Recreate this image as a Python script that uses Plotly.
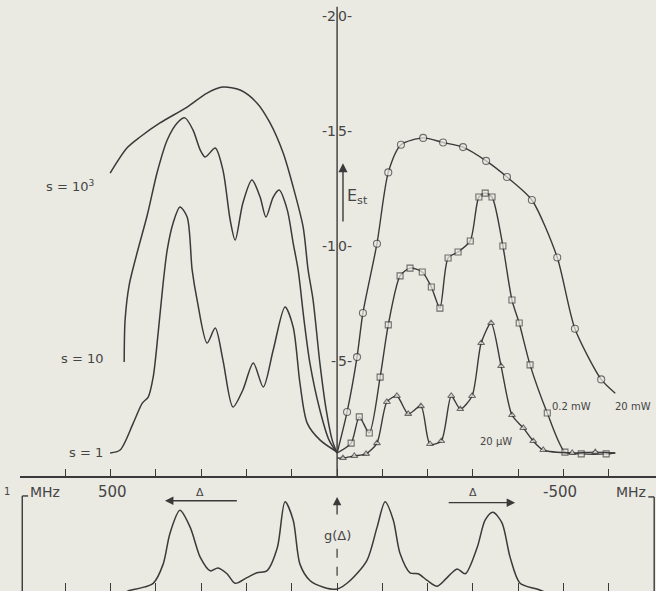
import plotly.graph_objects as go

# ---------------- data ----------------
# x in MHz (detuning, axis drawn reversed), y = E_st
S1000_MHZ = [501, 464, 435, 391, 331, 287, 252, 214, 177, 148, 119, 97, 75, 64, 53, 38, 24, 11, 0]
S1000_E = [13.17, 14.26, 14.74, 15.35, 16.04, 16.65, 16.91, 16.78, 16.22, 15.35, 14.04, 12.57, 10.83, 8.96, 7.65, 4.91, 2.87, 1.57, 1.0]

S10_MHZ = [470, 468, 459, 441, 419, 397, 375, 353, 336, 318, 302, 291, 269, 252, 236, 225, 208, 188, 170, 157, 141, 128, 110, 97, 86, 73, 60, 38, 18, 0]
S10_E = [4.96, 6.78, 8.30, 9.74, 11.35, 13.22, 14.61, 15.35, 15.57, 15.04, 14.17, 13.87, 14.26, 13.30, 11.13, 10.26, 11.87, 12.87, 12.13, 11.26, 12.13, 12.43, 11.57, 10.13, 8.96, 6.78, 4.91, 2.87, 1.57, 1.0]

S1_MHZ = [501, 479, 450, 430, 417, 406, 395, 384, 375, 362, 347, 331, 320, 309, 287, 269, 252, 230, 208, 185, 163, 141, 115, 97, 82, 66, 38, 0]
S1_E = [1.0, 1.13, 2.30, 3.17, 3.43, 4.30, 6.22, 8.39, 9.83, 11.0, 11.70, 11.26, 8.96, 7.65, 5.78, 6.43, 5.04, 3.0, 3.74, 4.91, 3.87, 5.48, 7.35, 6.48, 4.04, 2.30, 1.57, 1.04]

P20MW_MHZ = [0, -22, -44, -57, -88, -113, -141, -190, -234, -278, -329, -375, -430, -486, -525, -583, -614]
P20MW_E = [1.0, 2.78, 5.17, 7.09, 10.1, 13.2, 14.4, 14.7, 14.5, 14.3, 13.7, 13.0, 12.0, 9.5, 6.4, 4.2, 3.6]

P02MW_MHZ = [0, -31, -49, -71, -95, -113, -139, -161, -188, -208, -227, -245, -267, -294, -313, -327, -342, -366, -386, -402, -426, -464, -503, -539, -594, -614]
P02MW_E = [1.0, 1.43, 2.57, 1.87, 4.30, 6.57, 8.70, 9.04, 8.87, 8.22, 7.30, 9.48, 9.74, 10.22, 12.13, 12.30, 12.13, 10.0, 7.65, 6.65, 4.83, 2.74, 1.04, 0.96, 0.96, 1.0]

P20UW_MHZ = [0, -13, -38, -64, -88, -110, -132, -157, -185, -205, -230, -252, -272, -298, -318, -340, -362, -386, -411, -433, -455, -519, -570, -614]
P20UW_E = [0.78, 0.78, 0.87, 0.96, 1.43, 3.22, 3.48, 2.70, 3.04, 1.39, 1.52, 3.48, 2.91, 3.48, 5.78, 6.65, 4.78, 2.65, 2.09, 1.52, 1.13, 1.0, 1.04, 1.0]

G_MHZ = [475, 461, 435, 406, 384, 369, 347, 324, 302, 280, 263, 243, 225, 199, 177, 155, 132, 115, 97, 82, 60, 30, 0,
         -29, -66, -88, -106, -124, -139, -161, -179, -199, -221, -243, -265, -283, -309, -327, -344, -364, -382, -404, -441, -475]
G_VAL = [-0.04, 0.0, 0.03, 0.08, 0.28, 0.60, 0.84, 0.66, 0.35, 0.21, 0.24, 0.18, 0.08, 0.14, 0.19, 0.21, 0.45, 0.93, 0.74, 0.28, 0.11, 0.04, 0.02,
         0.11, 0.32, 0.66, 0.93, 0.74, 0.39, 0.19, 0.18, 0.11, 0.05, 0.14, 0.23, 0.18, 0.45, 0.74, 0.82, 0.71, 0.35, 0.08, 0.02, -0.04]

TICK_MHZ = [700, 600, 500, 400, 300, 200, 100, 0, -100, -200, -300, -400, -500, -600]
E_TICKS = [20, 15, 10, 5]

# ---------------- style ----------------
W, H = 656, 591
BG = '#eae9e2'
INK = '#3a3a3a'
TXT = '#454545'
FONT = 'DejaVu Sans'
XR = [700, -704]


def X(px):
    return px / W


def Y(py):
    return 1 - py / H


fig = go.Figure()


def theory(x, y):
    fig.add_trace(go.Scatter(x=x, y=y, mode='lines', xaxis='x', yaxis='y',
                             line=dict(color=INK, width=1.5, shape='spline', smoothing=0.8),
                             showlegend=False, hoverinfo='skip'))


def measured(x, y, symbol, size):
    sizes = [0] + [size] * (len(x) - 2) + [0]
    fig.add_trace(go.Scatter(x=x, y=y, mode='lines+markers', xaxis='x', yaxis='y',
                             line=dict(color=INK, width=1.4, shape='spline', smoothing=0.7),
                             marker=dict(symbol=symbol, size=sizes, color=BG,
                                         line=dict(color=INK, width=1.1)),
                             showlegend=False, hoverinfo='skip'))


theory(S1000_MHZ, S1000_E)
theory(S10_MHZ, S10_E)
theory(S1_MHZ, S1_E)
measured(P20MW_MHZ, P20MW_E, 'circle', 7)
measured(P02MW_MHZ, P02MW_E, 'square', 6)
measured(P20UW_MHZ, P20UW_E, 'triangle-up', 6)

fig.add_trace(go.Scatter(x=G_MHZ, y=G_VAL, mode='lines', xaxis='x2', yaxis='y2',
                         line=dict(color=INK, width=1.5, shape='spline', smoothing=0.8),
                         showlegend=False, hoverinfo='skip'))

shapes = [
    # central E_st axis
    dict(type='line', xref='x', yref='y', x0=0, x1=0, y0=0, y1=20.4, line=dict(color=INK, width=1.4)),
    # brackets of the g(Δ) panel
    dict(type='line', xref='x2', yref='y2', x0=695, x1=695, y0=-0.2, y1=0.99, line=dict(color=INK, width=1.4)),
    dict(type='line', xref='x2', yref='y2', x0=695, x1=682, y0=0.99, y1=0.99, line=dict(color=INK, width=1.4)),
    dict(type='line', xref='x2', yref='y2', x0=-700, x1=-700, y0=-0.2, y1=0.98, line=dict(color=INK, width=1.4)),
    dict(type='line', xref='x2', yref='y2', x0=-700, x1=-687, y0=0.98, y1=0.98, line=dict(color=INK, width=1.4)),
    # dashed stem under g(Δ)
    dict(type='line', xref='x2', yref='y2', x0=0, x1=0, y0=0.16, y1=0.46, line=dict(color=INK, width=1.2, dash='dash')),
]

ann = []


def text(px, py, s, size=13, xanchor='center'):
    ann.append(dict(x=X(px), y=Y(py), xref='paper', yref='paper', text=s, showarrow=False,
                    xanchor=xanchor, yanchor='middle', font=dict(family=FONT, size=size, color=TXT)))


# E_st tick labels, split around the axis line
for v in E_TICKS:
    left = '-' + str(v)[:-1] if v >= 10 else '-'
    right = str(v)[-1] + '-'
    ann.append(dict(x=0, y=v, xref='x', yref='y', text=left, showarrow=False, xanchor='right', yanchor='middle',
                    xshift=1, font=dict(family=FONT, size=14, color=TXT)))
    ann.append(dict(x=0, y=v, xref='x', yref='y', text=right, showarrow=False, xanchor='left',
                    yanchor='middle', xshift=-1, font=dict(family=FONT, size=14, color=TXT)))

# E_st arrow and label
ann.append(dict(x=-13, y=13.6, ax=-13, ay=11.0, xref='x', yref='y', axref='x', ayref='y', text='',
                showarrow=True, arrowhead=2, arrowsize=1.3, arrowwidth=1.4, arrowcolor=INK))
text(345, 197, 'E<sub>st</sub>', size=16, xanchor='left')

# curve labels
text(70, 186, 's = 10<sup>3</sup>', size=13)
text(82, 358, 's = 10', size=13)
text(86, 452, 's = 1', size=13)
text(571, 406, '0.2 mW', size=10)
text(633, 406, '20 mW', size=10)
text(496, 441, '20 μW', size=10)

# frequency axis labels
text(45, 492, 'MHz', size=14)
text(112, 492, '500', size=15)
text(560, 492, '-500', size=15)
text(631, 492, 'MHz', size=14)
text(7, 491, '1', size=10)

# Δ arrows and g(Δ)
ann.append(dict(x=380, y=0.94, ax=218, ay=0.94, xref='x2', yref='y2', axref='x2', ayref='y2', text='',
                showarrow=True, arrowhead=2, arrowsize=1.3, arrowwidth=1.3, arrowcolor=INK))
ann.append(dict(x=-393, y=0.92, ax=-243, ay=0.92, xref='x2', yref='y2', axref='x2', ayref='y2', text='',
                showarrow=True, arrowhead=2, arrowsize=1.3, arrowwidth=1.3, arrowcolor=INK))
text(200, 492, 'Δ', size=11)
text(473, 492, 'Δ', size=11)
ann.append(dict(x=0, y=0.98, ax=0, ay=0.78, xref='x2', yref='y2', axref='x2', ayref='y2', text='',
                showarrow=True, arrowhead=2, arrowsize=1.3, arrowwidth=1.3, arrowcolor=INK))
text(337, 535, 'g(Δ)', size=13)

fig.update_layout(
    width=W, height=H, margin=dict(l=0, r=0, t=0, b=0),
    paper_bgcolor=BG, plot_bgcolor=BG,
    xaxis=dict(domain=[20 / W, 1], range=XR, anchor='y', showline=True, linecolor=INK, linewidth=1.5,
               ticks='inside', tickvals=TICK_MHZ, ticklen=7, tickwidth=1.4, tickcolor=INK,
               showticklabels=False, showgrid=False, zeroline=False),
    yaxis=dict(domain=[1 - 476 / H, 1], range=[0, 476 / 23], visible=False),
    xaxis2=dict(domain=[20 / W, 1], range=XR, anchor='y2', showline=False,
                ticks='inside', tickvals=TICK_MHZ, ticklen=8, tickwidth=1.4, tickcolor=INK,
                showticklabels=False, showgrid=False, zeroline=False),
    yaxis2=dict(domain=[0, 112 / H], range=[0, 112 / 96], visible=False),
    shapes=shapes, annotations=ann,
)

fig.write_html('out.html', config={'displayModeBar': False},
               post_script="document.body.style.margin='0';document.body.style.background='%s';" % BG)
